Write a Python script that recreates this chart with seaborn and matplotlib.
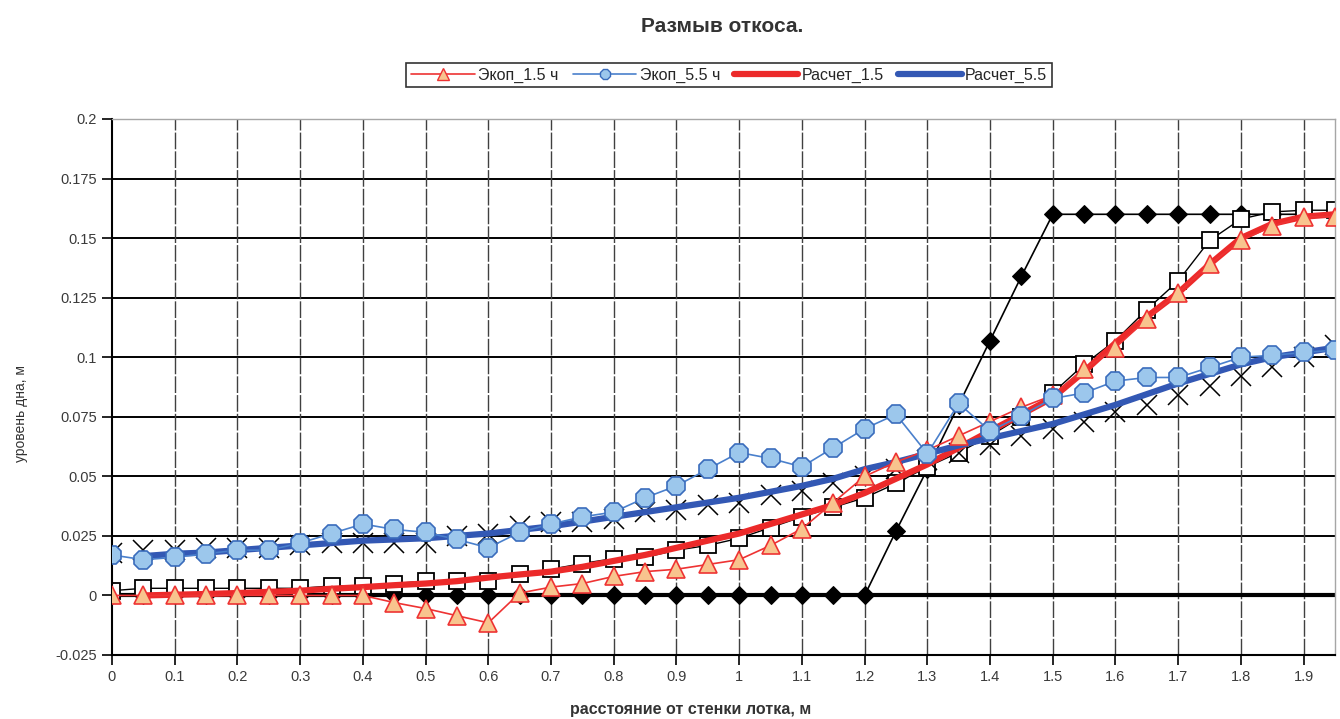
import matplotlib
matplotlib.use("Agg")
import matplotlib.pyplot as plt
import seaborn as sns
import pandas as pd

# x positions of the measured points, m
x_pts = [0.0, 0.05, 0.1, 0.15, 0.2, 0.25, 0.3, 0.35, 0.4, 0.45,
         0.5, 0.55, 0.6, 0.65, 0.7, 0.75, 0.8, 0.85, 0.9, 0.95,
         1.0, 1.05, 1.1, 1.15, 1.2, 1.25, 1.3, 1.35, 1.4, 1.45,
         1.5, 1.55, 1.6, 1.65, 1.7, 1.75, 1.8, 1.85, 1.9, 1.95]

# Экоп_1.5 ч (triangles)
exp_15 = [0.0, 0.0, 0.0, 0.0, 0.0, 0.0, 0.0, 0.0, 0.0, -0.003,
          -0.0055, -0.0085, -0.0115, 0.001, 0.0035, 0.005, 0.008, 0.010, 0.011, 0.013,
          0.015, 0.021, 0.028, 0.039, 0.050, 0.056, 0.061, 0.067, 0.073, 0.079,
          0.084, 0.095, 0.104, 0.116, 0.127, 0.139, 0.149, 0.155, 0.159, 0.159]

# Экоп_5.5 ч (circles)
exp_55 = [0.017, 0.015, 0.016, 0.0175, 0.019, 0.019, 0.022, 0.026, 0.030, 0.0277,
          0.0265, 0.0235, 0.020, 0.0265, 0.030, 0.033, 0.035, 0.041, 0.046, 0.053,
          0.060, 0.0575, 0.054, 0.062, 0.070, 0.076, 0.0595, 0.0806, 0.069, 0.0755,
          0.0827, 0.085, 0.090, 0.0915, 0.0915, 0.0957, 0.100, 0.1008, 0.102, 0.103]

# unlabelled background series of the scanned chart
initial = [0.0, 0.0, 0.0, 0.0, 0.0, 0.0, 0.0, 0.0, 0.0, 0.0,
           0.0, 0.0, 0.0, 0.0, 0.0, 0.0, 0.0, 0.0, 0.0, 0.0,
           0.0, 0.0, 0.0, 0.0, 0.0, 0.027, 0.053, 0.080, 0.107, 0.134,
           0.16, 0.16, 0.16, 0.16, 0.16, 0.16, 0.16, 0.16, 0.16, 0.16]
squares = [0.002, 0.003, 0.003, 0.003, 0.003, 0.003, 0.003, 0.004, 0.004, 0.005,
           0.006, 0.006, 0.006, 0.009, 0.011, 0.0134, 0.0155, 0.016, 0.019, 0.021,
           0.024, 0.0285, 0.033, 0.037, 0.041, 0.047, 0.054, 0.060, 0.067, 0.075,
           0.085, 0.097, 0.107, 0.120, 0.132, 0.149, 0.158, 0.161, 0.1617, 0.1617]
crosses = [0.018, 0.019, 0.019, 0.020, 0.020, 0.020, 0.021, 0.022, 0.022, 0.022,
           0.022, 0.025, 0.026, 0.029, 0.031, 0.031, 0.032, 0.035, 0.036, 0.038,
           0.039, 0.042, 0.044, 0.047, 0.050, 0.053, 0.057, 0.060, 0.063, 0.067,
           0.070, 0.073, 0.077, 0.080, 0.084, 0.088, 0.092, 0.096, 0.100, 0.105]

# computed profiles
x_calc = x_pts[1:]
calc_15 = [0.0, 0.0003, 0.0006, 0.001, 0.0015, 0.002, 0.0028, 0.0035, 0.0043,
           0.005, 0.006, 0.0075, 0.0088, 0.010, 0.012, 0.0145, 0.017, 0.020, 0.023,
           0.026, 0.030, 0.034, 0.038, 0.043, 0.049, 0.055, 0.062, 0.069, 0.076,
           0.083, 0.094, 0.106, 0.117, 0.127, 0.139, 0.150, 0.156, 0.159, 0.160]
calc_55 = [0.0165, 0.0175, 0.018, 0.019, 0.020, 0.021, 0.022, 0.023, 0.0235,
           0.024, 0.025, 0.026, 0.0275, 0.029, 0.031, 0.033, 0.035, 0.037, 0.039,
           0.041, 0.0435, 0.046, 0.049, 0.053, 0.056, 0.0595, 0.063, 0.066, 0.069,
           0.072, 0.076, 0.080, 0.0845, 0.089, 0.093, 0.097, 0.100, 0.102, 0.104]

x_ticks = [0.0, 0.1, 0.2, 0.3, 0.4, 0.5, 0.6, 0.7, 0.8, 0.9,
           1.0, 1.1, 1.2, 1.3, 1.4, 1.5, 1.6, 1.7, 1.8, 1.9]
y_ticks = [-0.025, 0.0, 0.025, 0.05, 0.075, 0.1, 0.125, 0.15, 0.175, 0.2]

sns.set_theme(style="white")
plt.rcParams["font.family"] = ["Liberation Sans", "DejaVu Sans"]

fig = plt.figure(figsize=(13.4, 7.19), dpi=100)
ax = fig.add_axes([112 / 1340, 1 - 655 / 719, (1335 - 112) / 1340, (655 - 119) / 719])

# grid like the scanned sheet
for yv in y_ticks[1:-1]:
    ax.axhline(yv, color="black", lw=1.4, zorder=1)
for xv in x_ticks[1:]:
    ax.axvline(xv, color="0.25", lw=1.0, ls=(0, (12, 1.5)), zorder=1)
ax.axhline(0, color="black", lw=3, zorder=1.5)

df = pd.DataFrame({"x": x_pts, "exp_15": exp_15, "exp_55": exp_55,
                   "initial": initial, "squares": squares, "crosses": crosses})
dc = pd.DataFrame({"x": x_calc, "calc_15": calc_15, "calc_55": calc_55})

common = dict(ax=ax, estimator=None, sort=False, legend=False)
sns.lineplot(data=df, x="x", y="initial", color="black", lw=1.2, marker="D",
             markersize=9, markerfacecolor="black", markeredgecolor="black", zorder=2, **common)
sns.lineplot(data=df, x="x", y="squares", color="black", lw=1.0, marker="s",
             markersize=12, markerfacecolor="white", markeredgecolor="black",
             markeredgewidth=1.3, zorder=2, **common)
sns.lineplot(data=df, x="x", y="crosses", color="black", lw=0, marker="x",
             markersize=14, markeredgecolor="black", markeredgewidth=1.1, zorder=2, **common)

sns.lineplot(data=dc, x="x", y="calc_15", color="#ec2a2a", lw=4.5, zorder=3, **common)
sns.lineplot(data=dc, x="x", y="calc_55", color="#3358b4", lw=4.5, zorder=3, **common)

sns.lineplot(data=df, x="x", y="exp_15", color="#ee3333", lw=1.2, marker="^",
             markersize=13, markerfacecolor="#f8c48e", markeredgecolor="#ee3333",
             markeredgewidth=1.2, zorder=4, **common)
sns.lineplot(data=df, x="x", y="exp_55", color="#4a80cc", lw=1.2, marker="8",
             markersize=14, markerfacecolor="#9cc7ec", markeredgecolor="#3a6cbc",
             markeredgewidth=1.2, zorder=4, **common)

ax.set_xlim(0, 1.95)
ax.set_ylim(-0.025, 0.2)
ax.set_xticks(x_ticks)
ax.set_xticklabels([f"{v:g}" for v in x_ticks])
ax.set_yticks(y_ticks)
ax.set_yticklabels([f"{v:g}" for v in y_ticks])
ax.tick_params(axis="both", direction="out", length=7, width=1.2, color="black",
               labelsize=10.5, labelcolor="#3a3a3a", left=True, bottom=True, pad=4)

for side in ["left", "bottom"]:
    ax.spines[side].set_color("black")
    ax.spines[side].set_linewidth(1.5)
for side in ["top", "right"]:
    ax.spines[side].set_color("0.65")
    ax.spines[side].set_linewidth(1.0)

ax.set_xlabel("расстояние от стенки лотка, м", fontsize=11.5, fontweight="bold",
              color="#333333")
ax.xaxis.set_label_coords((691 - 112) / 1223, -0.088)
ax.set_ylabel("уровень дна, м", fontsize=10, color="#333333")
ax.yaxis.set_label_coords(-0.069, 0.45)
fig.text(722 / 1340, 1 - 26 / 719, "Размыв откоса.", ha="center", va="center",
         fontsize=15, fontweight="bold", color="#333333")

handles = [
    plt.Line2D([], [], color="#ee3333", lw=1.2, marker="^", markersize=8,
               markerfacecolor="#f8c48e", markeredgecolor="#ee3333"),
    plt.Line2D([], [], color="#4a80cc", lw=1.2, marker="8", markersize=8,
               markerfacecolor="#9cc7ec", markeredgecolor="#3a6cbc"),
    plt.Line2D([], [], color="#ec2a2a", lw=4.5),
    plt.Line2D([], [], color="#3358b4", lw=4.5),
]
labels = ["Экоп_1.5 ч", "Экоп_5.5 ч", "Расчет_1.5", "Расчет_5.5"]
leg = fig.legend(handles, labels, loc="center", bbox_to_anchor=(729 / 1340, 1 - 75 / 719),
                 ncol=4, fontsize=11.5, frameon=True, fancybox=False, handlelength=4.0,
                 handletextpad=0.2, columnspacing=0.9, borderpad=0.3)
leg.get_frame().set_edgecolor("black")
leg.get_frame().set_linewidth(1.2)

fig.savefig("out.png", dpi=100)
